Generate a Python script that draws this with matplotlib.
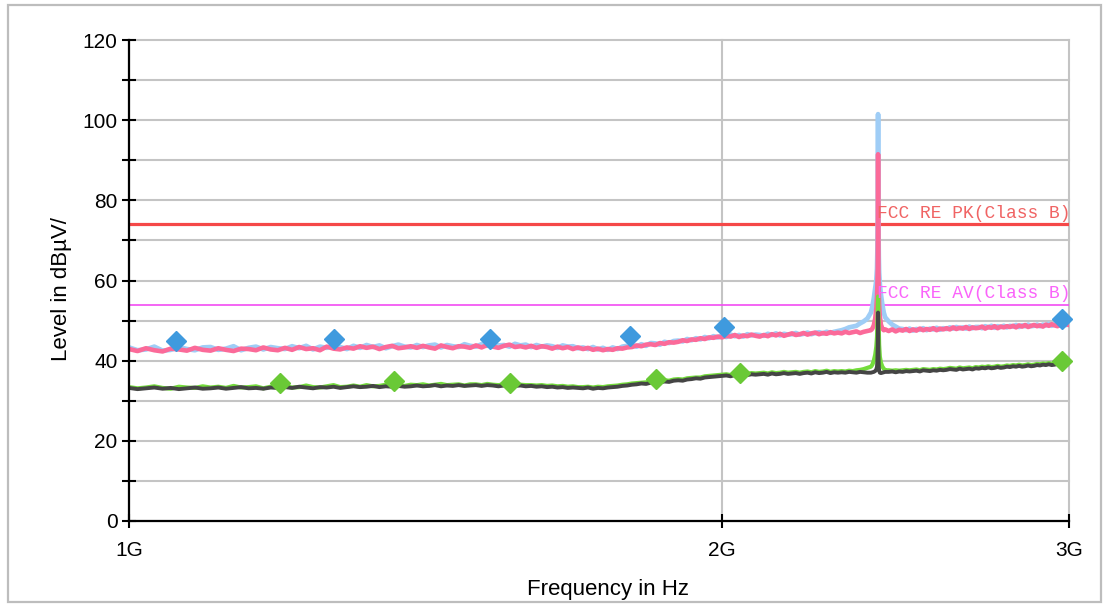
import numpy as np
import matplotlib
matplotlib.use("Agg")
import matplotlib.pyplot as plt
from matplotlib.patches import Rectangle

# ---------------- data ----------------
# sweep frequencies in MHz (low band, fine steps around 2.4 GHz, high band)
freq_low_mhz = np.arange(1000, 2371, 10)
freq_spike_mhz = [2380, 2384, 2388, 2392, 2395, 2397, 2398, 2399, 2400,
                  2401, 2402, 2403, 2405, 2408, 2412, 2416, 2420]
freq_high_mhz = np.arange(2430, 3001, 10)

# Peak trace (pink) in dBuV/m
peak_pink = [
    42.9, 42.4, 43.1, 42.6, 42.3, 43.0, 42.8, 42.5, 43.2, 42.7,
    42.5, 43.1, 42.7, 42.4, 43.0, 42.9, 42.6, 43.3, 42.8, 42.6,
    43.2, 42.7, 43.4, 42.9, 43.1, 42.6, 43.5, 43.0, 42.8, 43.3,
    43.0, 43.6, 43.2, 43.5, 42.9, 43.4, 43.7, 43.1, 43.3, 43.6,
    43.2, 43.7, 43.3, 43.0, 43.8, 43.4, 43.1, 43.6, 43.5, 43.2,
    43.8, 43.3, 43.9, 43.5, 43.2, 43.7, 44.0, 43.4, 43.6, 43.3,
    43.7, 43.2, 43.6, 43.4, 43.0, 43.5, 43.1, 43.4, 42.9, 43.3,
    42.9, 43.2, 42.7, 43.0, 42.6, 42.9, 42.7, 43.1, 43.0, 43.3,
    43.4, 43.8, 43.6, 44.0, 44.1, 43.9, 44.4, 44.2, 44.6, 44.5,
    44.7, 45.1, 44.9, 45.3, 45.2, 45.6, 45.4, 45.8, 45.7, 46.0,
    45.8, 46.2, 46.0, 46.4, 45.9, 46.3, 46.1, 46.5, 46.2, 46.0,
    46.4, 46.1, 46.6, 46.3, 46.7, 46.2, 46.5, 46.8, 46.4, 46.6,
    46.9, 46.5, 46.8, 47.0, 46.6, 46.9, 46.7, 47.1, 46.8, 47.0,
    46.8, 47.2, 46.9, 47.1, 47.3, 46.9, 47.2, 47.4,
    # spike
    47.6, 48.0, 48.8, 50.5, 53.0, 56.0, 58.5, 63.0, 91.5,
    62.0, 57.0, 54.0, 51.0, 49.0, 48.0, 47.6, 47.8,
    # high band
    47.4, 47.8, 47.3, 47.7, 47.5, 47.9, 47.4,
    47.8, 47.5, 48.0, 47.6, 47.9, 47.7, 48.1, 47.6, 48.0, 47.8,
    48.1, 47.8, 48.3, 47.9, 48.2, 48.0, 48.4, 47.9, 48.3, 48.1,
    48.2, 48.5, 48.0, 48.4, 48.2, 48.6, 48.1, 48.5, 48.3, 48.6,
    48.4, 48.7, 48.3, 48.8, 48.5, 48.9, 48.4, 48.7, 48.9, 48.6,
    48.8, 48.5, 49.0, 48.7, 49.1, 48.8, 48.6, 49.0, 48.8, 49.1,
    48.9,
]

# Peak trace (light blue, max hold underneath)
peak_blue = [
    43.3, 42.6, 42.8, 43.5, 42.5, 42.7, 43.4, 42.9, 42.6, 43.3,
    43.4, 42.7, 43.0, 43.6, 42.6, 43.2, 43.5, 42.8, 43.4, 43.1,
    42.9, 43.6, 43.1, 43.7, 42.8, 43.5, 43.2, 43.8, 43.4, 42.9,
    43.7, 43.2, 43.9, 43.4, 43.8, 43.1, 43.6, 44.0, 43.5, 43.3,
    43.9, 43.4, 43.8, 44.0, 43.3, 43.9, 43.6, 43.4, 44.1, 43.7,
    43.5, 44.1, 43.7, 44.2, 43.8, 43.9, 43.5, 44.2, 43.8, 44.0,
    43.4, 43.9, 43.5, 43.8, 43.6, 43.2, 43.8, 43.5, 43.6, 43.1,
    43.3, 42.9, 43.4, 42.8, 43.2, 42.7, 43.3, 42.9, 43.5, 43.7,
    43.9, 43.5, 44.1, 43.7, 44.4, 44.3, 44.0, 44.7, 44.4, 44.9,
    45.0, 44.8, 45.4, 45.1, 45.6, 45.3, 45.9, 45.6, 46.1, 45.8,
    46.3, 45.9, 46.5, 46.1, 46.4, 46.0, 46.6, 46.3, 46.5, 46.4,
    46.2, 46.7, 46.4, 46.8, 46.3, 46.7, 46.5, 46.6, 46.9, 46.5,
    46.7, 47.0, 46.6, 46.9, 47.1, 46.8, 47.2, 46.9, 47.2, 47.4,
    47.6, 47.9, 48.3, 48.5, 48.7, 49.3, 49.8, 50.5,
    # spike
    52.0, 53.5, 55.5, 58.0, 60.0, 63.0, 67.0, 75.0, 101.5,
    74.0, 66.0, 62.0, 59.0, 56.5, 54.0, 52.0, 50.8,
    # high band
    49.8, 49.0, 48.5, 48.0, 47.9, 47.6, 48.0,
    47.5, 47.9, 47.7, 48.1, 47.6, 48.0, 47.8, 48.2, 47.7, 48.1,
    47.9, 48.3, 48.0, 48.4, 48.1, 48.3, 48.0, 48.5, 48.1, 48.4,
    48.4, 48.1, 48.6, 48.3, 48.7, 48.2, 48.6, 48.4, 48.7, 48.3,
    48.7, 48.5, 48.9, 48.4, 48.8, 48.6, 49.0, 48.6, 48.7, 49.0,
    48.6, 49.0, 48.8, 49.2, 48.7, 49.1, 49.0, 48.8, 49.2, 48.9,
    49.1,
]

# Average trace (dark gray)
avg_gray = [
    33.2, 32.9, 33.1, 33.3, 33.0, 33.2, 32.9, 33.1, 33.3, 33.0,
    33.1, 33.3, 33.0, 33.2, 33.4, 33.1, 33.2, 33.0, 33.3, 33.2,
    33.4, 33.2, 33.5, 33.3, 33.1, 33.4, 33.3, 33.5, 33.2, 33.4,
    33.6, 33.4, 33.5, 33.7, 33.4, 33.6, 33.5, 33.7, 33.5, 33.6,
    33.8, 33.6, 33.7, 33.9, 33.6, 33.8, 33.7, 33.9, 33.7, 33.8,
    33.9, 33.7, 33.9, 33.8, 33.6, 33.8, 34.0, 33.7, 33.8, 33.6,
    33.7, 33.5, 33.6, 33.4, 33.5, 33.3, 33.4, 33.2, 33.3, 33.2,
    33.1, 33.3, 33.0, 33.2, 33.1, 33.3, 33.4, 33.5, 33.7, 33.8,
    34.0, 34.1, 34.3, 34.2, 34.5, 34.4, 34.6, 34.8, 34.7, 35.0,
    35.1, 35.0, 35.3, 35.4, 35.6, 35.5, 35.8, 35.9, 36.0, 36.1,
    36.2, 36.3, 36.1, 36.4, 36.3, 36.5, 36.4, 36.6, 36.5, 36.6,
    36.7, 36.5, 36.8, 36.6, 36.7, 36.9, 36.7, 36.8, 36.9, 36.7,
    36.9, 37.0, 36.8, 37.1, 36.9, 37.0, 37.2, 36.9, 37.1, 37.0,
    37.1, 37.0, 37.2, 37.1, 37.0, 37.2, 37.1, 37.0,
    # spike
    37.0, 37.1, 37.2, 37.4, 37.8, 38.5, 40.0, 44.0, 52.0,
    42.0, 38.5, 37.5, 37.0, 36.9, 37.0, 37.1, 37.2,
    # high band
    37.2, 37.3, 37.1, 37.3, 37.2, 37.4, 37.3,
    37.4, 37.5, 37.3, 37.6, 37.5, 37.4, 37.6, 37.5, 37.7, 37.6,
    37.7, 37.9, 37.8, 37.7, 38.0, 37.8, 37.9, 38.0, 37.8, 38.1,
    38.0, 38.2, 38.1, 38.3, 38.1, 38.2, 38.4, 38.2, 38.3, 38.5,
    38.4, 38.6, 38.5, 38.7, 38.5, 38.6, 38.8, 38.6, 38.7, 38.9,
    38.8, 39.0, 38.9, 39.1, 38.9, 39.0, 39.2, 39.0, 39.1, 39.2,
    39.1,
]

# Average trace (green, underneath)
avg_green = [
    33.4, 33.1, 33.3, 33.6, 33.2, 33.0, 33.5, 33.3, 33.2, 33.6,
    33.3, 33.5, 33.2, 33.7, 33.3, 33.4, 33.6, 33.1, 33.5, 33.3,
    33.6, 33.3, 33.4, 33.8, 33.4, 33.3, 33.6, 33.9, 33.4, 33.5,
    33.8, 33.5, 33.9, 33.6, 33.7, 34.0, 33.6, 33.8, 33.7, 34.0,
    33.9, 34.1, 33.8, 34.0, 34.2, 33.9, 34.0, 34.1, 33.8, 34.1,
    34.1, 33.9, 34.2, 34.0, 33.9, 34.1, 34.2, 33.9, 34.0, 33.9,
    33.9, 33.8, 33.9, 33.7, 33.8, 33.6, 33.7, 33.5, 33.6, 33.4,
    33.4, 33.5, 33.3, 33.5, 33.4, 33.6, 33.7, 33.8, 34.0, 34.1,
    34.3, 34.4, 34.5, 34.6, 34.7, 34.8, 34.9, 35.1, 35.0, 35.3,
    35.4, 35.3, 35.6, 35.7, 35.8, 35.8, 36.1, 36.2, 36.3, 36.4,
    36.5, 36.6, 36.4, 36.7, 36.6, 36.8, 36.7, 36.9, 36.8, 36.9,
    37.0, 36.8, 37.1, 36.9, 37.0, 37.2, 37.0, 37.1, 37.2, 37.0,
    37.2, 37.3, 37.1, 37.4, 37.2, 37.3, 37.5, 37.2, 37.4, 37.3,
    37.4, 37.3, 37.5, 37.4, 37.6, 37.7, 37.9, 38.2,
    # spike
    38.5, 39.0, 40.0, 41.5, 43.5, 46.0, 49.0, 53.0, 56.0,
    52.0, 47.0, 44.0, 41.0, 39.5, 38.5, 38.0, 37.6,
    # high band
    37.6, 37.5, 37.6, 37.5, 37.6, 37.7, 37.6,
    37.7, 37.8, 37.6, 37.9, 37.8, 37.7, 37.9, 37.8, 38.0, 37.9,
    38.0, 38.2, 38.1, 38.0, 38.3, 38.1, 38.2, 38.3, 38.1, 38.4,
    38.3, 38.5, 38.4, 38.6, 38.4, 38.5, 38.7, 38.5, 38.6, 38.8,
    38.7, 38.9, 38.8, 39.0, 38.8, 38.9, 39.1, 38.9, 39.0, 39.2,
    39.1, 39.3, 39.2, 39.4, 39.2, 39.3, 39.5, 39.3, 39.4, 39.5,
    39.4,
]

# final measurement markers
pk_marker_freq_ghz = [1.056, 1.271, 1.525, 1.796, 2.004, 2.976]
pk_marker_level = [44.9, 45.4, 45.4, 46.2, 48.4, 50.4]
av_marker_freq_ghz = [1.193, 1.363, 1.561, 1.851, 2.042, 2.976]
av_marker_level = [34.4, 34.9, 34.4, 35.4, 36.9, 39.9]

# limit lines
limit_pk_level = 74.0
limit_av_level = 54.0
limit_pk_label = "FCC RE PK(Class B)"
limit_av_label = "FCC RE AV(Class B)"

x_tick_ghz = [1, 2, 3]
x_tick_labels = ["1G", "2G", "3G"]
y_major = [0, 20, 40, 60, 80, 100, 120]
y_minor = [10, 30, 50, 70, 90, 110]

# ---------------- plot ----------------
freq_hz = np.concatenate([freq_low_mhz, freq_spike_mhz, freq_high_mhz]) * 1e6

W, H = 1104, 606
fig = plt.figure(figsize=(W / 100, H / 100), dpi=100)
fig.patch.set_facecolor("white")
L, R, T, B = 129, 1069, 40, 521
ax = fig.add_axes([L / W, 1 - B / H, (R - L) / W, (B - T) / H])

# figure border
fig.patches.append(Rectangle((8 / W, 1 - 602 / H), (1101 - 8) / W, (602 - 5) / H,
                             transform=fig.transFigure, fill=False,
                             edgecolor="#bdbdbd", linewidth=1.6))

ax.set_xscale("log")
ax.set_xlim(1e9, 3e9)
ax.set_ylim(0, 120)

# limit lines
ax.plot([1e9, 3e9], [limit_pk_level] * 2, color="#f54848", lw=2.3, zorder=2,
        solid_capstyle="butt")
ax.plot([1e9, 3e9], [limit_av_level] * 2, color="#f24cf2", lw=1.2, zorder=2,
        solid_capstyle="butt")

# traces
ax.plot(freq_hz, peak_blue, color="#9fcdf6", lw=3.4, zorder=3)
ax.plot(freq_hz, peak_pink, color="#fb6a99", lw=3.3, zorder=3.1)
ax.plot(freq_hz, avg_green, color="#74dc3c", lw=3.0, zorder=3.2)
ax.plot(freq_hz, avg_gray, color="#454545", lw=2.8, zorder=3.3)

# markers
ax.plot(np.array(pk_marker_freq_ghz) * 1e9, pk_marker_level, linestyle="none",
        marker="D", ms=10.5, color="#3f9ade", mec="#3f9ade", zorder=5, clip_on=False)
ax.plot(np.array(av_marker_freq_ghz) * 1e9, av_marker_level, linestyle="none",
        marker="D", ms=10.5, color="#6ac936", mec="#6ac936", zorder=5, clip_on=False)

# limit labels
ax.text(3.004e9, limit_pk_level + 0.7, limit_pk_label, ha="right", va="bottom",
        family="Liberation Mono", fontsize=12.9, color="#f06464", zorder=4)
ax.text(3.004e9, limit_av_level + 0.7, limit_av_label, ha="right", va="bottom",
        family="Liberation Mono", fontsize=12.9, color="#fa64fa", zorder=4)

# ticks
ax.set_xticks([v * 1e9 for v in x_tick_ghz])
ax.set_xticklabels(x_tick_labels)
ax.xaxis.set_minor_locator(matplotlib.ticker.NullLocator())
ax.set_yticks(y_major)
ax.set_yticks(y_minor, minor=True)
ax.tick_params(axis="both", which="both", direction="inout", length=10.5,
               width=1.5, color="black")
ax.tick_params(axis="y", which="major", labelsize=15, pad=3)
ax.tick_params(axis="x", which="major", labelsize=15, pad=9)
for lab in ax.get_xticklabels() + ax.get_yticklabels():
    lab.set_family("Liberation Sans")

ax.grid(True, axis="y", which="both", color="#c4c4c4", lw=1.5, zorder=0)
ax.grid(True, axis="x", which="major", color="#c4c4c4", lw=1.5, zorder=0)
ax.set_axisbelow(True)
for t in ax.xaxis.get_major_ticks() + ax.yaxis.get_major_ticks() + ax.yaxis.get_minor_ticks():
    t.gridline.set_clip_on(False)

for s in ["top", "right"]:
    ax.spines[s].set_visible(False)
for s in ["left", "bottom"]:
    ax.spines[s].set_linewidth(1.6)
    ax.spines[s].set_color("black")
    ax.spines[s].set_zorder(6)

fig.text(62 / W, 1 - 289 / H, "Level in dBµV/", rotation=90, ha="center",
         va="center", fontsize=16, family="Liberation Sans")
fig.text(608 / W, 1 - 589 / H, "Frequency in Hz", ha="center", va="center",
         fontsize=16, family="Liberation Sans")

fig.savefig("out.png", dpi=100, facecolor="white")
